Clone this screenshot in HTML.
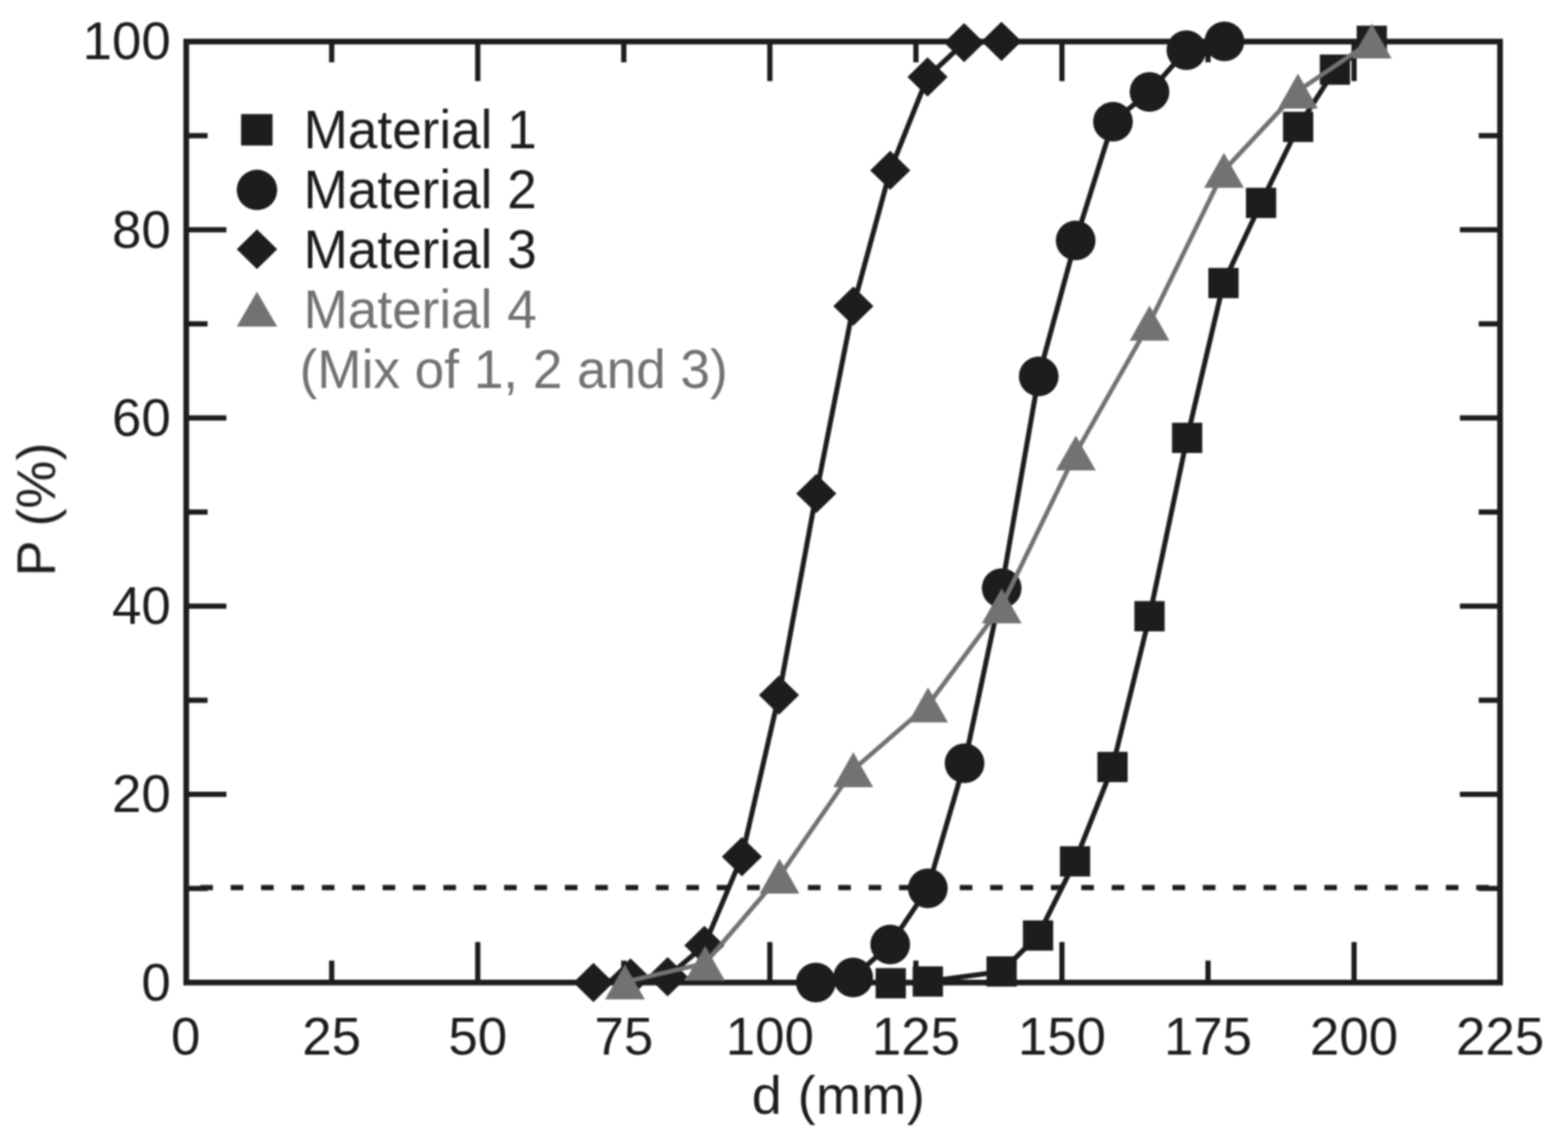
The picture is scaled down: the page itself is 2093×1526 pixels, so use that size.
<!DOCTYPE html>
<html lang="en"><head><meta charset="utf-8"><title>Chart</title>
<style>html,body{margin:0;padding:0;background:#fff;}body{width:2093px;height:1526px;overflow:hidden;}svg{display:block;}</style>
</head><body>
<svg width="2093" height="1526" viewBox="0 0 2093 1526" role="img" aria-label="Cumulative distribution P (%) versus d (mm) for four materials">
<defs><filter id="soft" x="0" y="0" width="2093" height="1526" filterUnits="userSpaceOnUse" color-interpolation-filters="sRGB"><feGaussianBlur stdDeviation="1.0"/></filter></defs>
<rect width="2093" height="1526" fill="#ffffff"/>
<g filter="url(#soft)">
<g stroke="#1d1d1b" stroke-width="7" fill="none">
<line x1="442.76" y1="1311.8" x2="442.76" y2="1282.5"/>
<line x1="442.76" y1="55.5" x2="442.76" y2="83.2"/>
<line x1="637.71" y1="1311.8" x2="637.71" y2="1257.7"/>
<line x1="637.71" y1="55.5" x2="637.71" y2="108.3"/>
<line x1="832.67" y1="1311.8" x2="832.67" y2="1282.5"/>
<line x1="832.67" y1="55.5" x2="832.67" y2="83.2"/>
<line x1="1027.62" y1="1311.8" x2="1027.62" y2="1257.7"/>
<line x1="1027.62" y1="55.5" x2="1027.62" y2="108.3"/>
<line x1="1222.58" y1="1311.8" x2="1222.58" y2="1282.5"/>
<line x1="1222.58" y1="55.5" x2="1222.58" y2="83.2"/>
<line x1="1417.53" y1="1311.8" x2="1417.53" y2="1257.7"/>
<line x1="1417.53" y1="55.5" x2="1417.53" y2="108.3"/>
<line x1="1612.49" y1="1311.8" x2="1612.49" y2="1282.5"/>
<line x1="1612.49" y1="55.5" x2="1612.49" y2="83.2"/>
<line x1="1807.44" y1="1311.8" x2="1807.44" y2="1257.7"/>
<line x1="1807.44" y1="55.5" x2="1807.44" y2="108.3"/>
<line x1="248.6" y1="1186.17" x2="277.1" y2="1186.17"/>
<line x1="2002.3" y1="1186.17" x2="1973.8" y2="1186.17"/>
<line x1="248.6" y1="1060.54" x2="302.2" y2="1060.54"/>
<line x1="2002.3" y1="1060.54" x2="1948.7" y2="1060.54"/>
<line x1="248.6" y1="934.91" x2="277.1" y2="934.91"/>
<line x1="2002.3" y1="934.91" x2="1973.8" y2="934.91"/>
<line x1="248.6" y1="809.28" x2="302.2" y2="809.28"/>
<line x1="2002.3" y1="809.28" x2="1948.7" y2="809.28"/>
<line x1="248.6" y1="683.65" x2="277.1" y2="683.65"/>
<line x1="2002.3" y1="683.65" x2="1973.8" y2="683.65"/>
<line x1="248.6" y1="558.02" x2="302.2" y2="558.02"/>
<line x1="2002.3" y1="558.02" x2="1948.7" y2="558.02"/>
<line x1="248.6" y1="432.39" x2="277.1" y2="432.39"/>
<line x1="2002.3" y1="432.39" x2="1973.8" y2="432.39"/>
<line x1="248.6" y1="306.76" x2="302.2" y2="306.76"/>
<line x1="2002.3" y1="306.76" x2="1948.7" y2="306.76"/>
<line x1="248.6" y1="181.13" x2="277.1" y2="181.13"/>
<line x1="2002.3" y1="181.13" x2="1973.8" y2="181.13"/>
</g>
<line x1="248.6" y1="1185" x2="2002.3" y2="1185" stroke="#1d1d1b" stroke-width="7" stroke-dasharray="16.8 23.75" stroke-dashoffset="21.75"/>
<rect x="248.6" y="55.5" width="1753.7" height="1256.3" fill="none" stroke="#1d1d1b" stroke-width="7.6"/>
<g id="material-1"><polyline fill="none" stroke="#1d1d1b" stroke-width="6.7" stroke-linejoin="round" points="1189,1312.7 1238.5,1310.4 1337,1297 1385.6,1249 1435,1150 1485,1024 1534.4,822.7 1584.6,584.6 1633.1,377.9 1683.3,270.9 1732.8,169.4 1781.9,93 1831.1,54.5"/><rect x="1168.8" y="1292.5" width="40.4" height="40.4" fill="#1d1d1b"/><rect x="1218.3" y="1290.2" width="40.4" height="40.4" fill="#1d1d1b"/><rect x="1316.8" y="1276.8" width="40.4" height="40.4" fill="#1d1d1b"/><rect x="1365.4" y="1228.8" width="40.4" height="40.4" fill="#1d1d1b"/><rect x="1414.8" y="1129.8" width="40.4" height="40.4" fill="#1d1d1b"/><rect x="1464.8" y="1003.8" width="40.4" height="40.4" fill="#1d1d1b"/><rect x="1514.2" y="802.5" width="40.4" height="40.4" fill="#1d1d1b"/><rect x="1564.4" y="564.4" width="40.4" height="40.4" fill="#1d1d1b"/><rect x="1612.9" y="357.7" width="40.4" height="40.4" fill="#1d1d1b"/><rect x="1663.1" y="250.7" width="40.4" height="40.4" fill="#1d1d1b"/><rect x="1712.6" y="149.2" width="40.4" height="40.4" fill="#1d1d1b"/><rect x="1761.7" y="72.8" width="40.4" height="40.4" fill="#1d1d1b"/><rect x="1810.9" y="34.3" width="40.4" height="40.4" fill="#1d1d1b"/></g>
<g id="material-2"><polyline fill="none" stroke="#1d1d1b" stroke-width="6.7" stroke-linejoin="round" points="1089,1311.7 1138.8,1305 1188.3,1260.9 1238.5,1186 1287.5,1019 1337.1,785.3 1386.5,502.5 1435.8,321.1 1485.6,162.5 1534.4,122.7 1583.6,66.9 1634.4,55.2"/><circle cx="1089" cy="1311.7" r="26.5" fill="#1d1d1b"/><circle cx="1138.8" cy="1305" r="26.5" fill="#1d1d1b"/><circle cx="1188.3" cy="1260.9" r="26.5" fill="#1d1d1b"/><circle cx="1238.5" cy="1186" r="26.5" fill="#1d1d1b"/><circle cx="1287.5" cy="1019" r="26.5" fill="#1d1d1b"/><circle cx="1337.1" cy="785.3" r="26.5" fill="#1d1d1b"/><circle cx="1386.5" cy="502.5" r="26.5" fill="#1d1d1b"/><circle cx="1435.8" cy="321.1" r="26.5" fill="#1d1d1b"/><circle cx="1485.6" cy="162.5" r="26.5" fill="#1d1d1b"/><circle cx="1534.4" cy="122.7" r="26.5" fill="#1d1d1b"/><circle cx="1583.6" cy="66.9" r="26.5" fill="#1d1d1b"/><circle cx="1634.4" cy="55.2" r="26.5" fill="#1d1d1b"/></g>
<g id="material-3"><polyline fill="none" stroke="#1d1d1b" stroke-width="6.7" stroke-linejoin="round" points="792.1,1311.7 841.6,1305.6 891.2,1304 940.2,1262.2 990.3,1143.8 1039.8,928.1 1089.6,658.9 1139.1,408.7 1188.3,227.4 1238.1,102.7 1287,56.9 1336.8,55.2"/><polygon points="792.1,1285.5 818.9,1311.7 792.1,1337.9 765.3,1311.7" fill="#1d1d1b"/><polygon points="841.6,1279.4 868.4,1305.6 841.6,1331.8 814.8,1305.6" fill="#1d1d1b"/><polygon points="891.2,1277.8 918,1304 891.2,1330.2 864.4,1304" fill="#1d1d1b"/><polygon points="940.2,1236 967,1262.2 940.2,1288.4 913.4,1262.2" fill="#1d1d1b"/><polygon points="990.3,1117.6 1017.1,1143.8 990.3,1170 963.5,1143.8" fill="#1d1d1b"/><polygon points="1039.8,901.9 1066.6,928.1 1039.8,954.3 1013,928.1" fill="#1d1d1b"/><polygon points="1089.6,632.7 1116.4,658.9 1089.6,685.1 1062.8,658.9" fill="#1d1d1b"/><polygon points="1139.1,382.5 1165.9,408.7 1139.1,434.9 1112.3,408.7" fill="#1d1d1b"/><polygon points="1188.3,201.2 1215.1,227.4 1188.3,253.6 1161.5,227.4" fill="#1d1d1b"/><polygon points="1238.1,76.5 1264.9,102.7 1238.1,128.9 1211.3,102.7" fill="#1d1d1b"/><polygon points="1287,30.7 1313.8,56.9 1287,83.1 1260.2,56.9" fill="#1d1d1b"/><polygon points="1336.8,29 1363.6,55.2 1336.8,81.4 1310,55.2" fill="#1d1d1b"/></g>
<g id="material-4"><polyline fill="none" stroke="#727272" stroke-width="6" stroke-linejoin="round" points="834.2,1311 941.2,1286 1040.5,1169.7 1139,1027.6 1238.8,941.1 1337.1,808.9 1436.1,604.8 1534.4,431.4 1633.8,227.4 1732.5,121.6 1831.1,54.7"/><polygon points="834.2,1287.7 860.7,1334.3 807.7,1334.3" fill="#727272"/><polygon points="941.2,1262.7 967.7,1309.3 914.7,1309.3" fill="#727272"/><polygon points="1040.5,1146.4 1067,1193 1014,1193" fill="#727272"/><polygon points="1139,1004.3 1165.5,1050.9 1112.5,1050.9" fill="#727272"/><polygon points="1238.8,917.8 1265.3,964.4 1212.3,964.4" fill="#727272"/><polygon points="1337.1,785.6 1363.6,832.2 1310.6,832.2" fill="#727272"/><polygon points="1436.1,581.5 1462.6,628.1 1409.6,628.1" fill="#727272"/><polygon points="1534.4,408.1 1560.9,454.7 1507.9,454.7" fill="#727272"/><polygon points="1633.8,204.1 1660.3,250.7 1607.3,250.7" fill="#727272"/><polygon points="1732.5,98.3 1759,144.9 1706,144.9" fill="#727272"/><polygon points="1831.1,31.4 1857.6,78 1804.6,78" fill="#727272"/></g>
<g font-family="'Liberation Sans', Arial, Helvetica, sans-serif" font-size="70.5" fill="#1d1d1b">
<text x="247.8" y="1408" text-anchor="middle">0</text>
<text x="442.76" y="1408" text-anchor="middle">25</text>
<text x="637.71" y="1408" text-anchor="middle">50</text>
<text x="832.67" y="1408" text-anchor="middle">75</text>
<text x="1027.62" y="1408" text-anchor="middle">100</text>
<text x="1222.58" y="1408" text-anchor="middle">125</text>
<text x="1417.53" y="1408" text-anchor="middle">150</text>
<text x="1612.49" y="1408" text-anchor="middle">175</text>
<text x="1807.44" y="1408" text-anchor="middle">200</text>
<text x="2002.4" y="1408" text-anchor="middle">225</text>
<text x="228" y="1335.6" text-anchor="end">0</text>
<text x="228" y="1084.34" text-anchor="end">20</text>
<text x="228" y="833.08" text-anchor="end">40</text>
<text x="228" y="581.82" text-anchor="end">60</text>
<text x="228" y="330.56" text-anchor="end">80</text>
<text x="228" y="79.3" text-anchor="end">100</text>
</g>
<text x="1119.2" y="1486.8" text-anchor="middle" letter-spacing="0.6" font-family="'Liberation Sans', Arial, Helvetica, sans-serif" font-size="72" fill="#1d1d1b">d (mm)</text>
<text transform="translate(73.4 680.3) rotate(-90)" text-anchor="middle" font-family="'Liberation Sans', Arial, Helvetica, sans-serif" font-size="72" fill="#1d1d1b">P (%)</text>
<g id="legend" font-family="'Liberation Sans', Arial, Helvetica, sans-serif" font-size="70.9">
<rect x="321.8" y="152.3" width="42" height="42" fill="#1d1d1b"/>
<circle cx="343" cy="253.6" r="27" fill="#1d1d1b"/>
<polygon points="343,306.3 370,332.8 343,359.3 316,332.8" fill="#1d1d1b"/>
<polygon points="343,389.6 370,436 316,436" fill="#727272"/>
<text transform="translate(405.2 198.2) scale(1 1.03)" fill="#1d1d1b">Material 1</text>
<text transform="translate(405.2 277.6) scale(1 1.03)" fill="#1d1d1b">Material 2</text>
<text transform="translate(405.2 358) scale(1 1.03)" fill="#1d1d1b">Material 3</text>
<text transform="translate(405.2 438.4) scale(1 1.03)" fill="#727272">Material 4</text>
<text transform="translate(400 518) scale(1 1.03)" fill="#727272">(Mix of 1, 2 and 3)</text>
</g>
</g>
</svg>
</body></html>
